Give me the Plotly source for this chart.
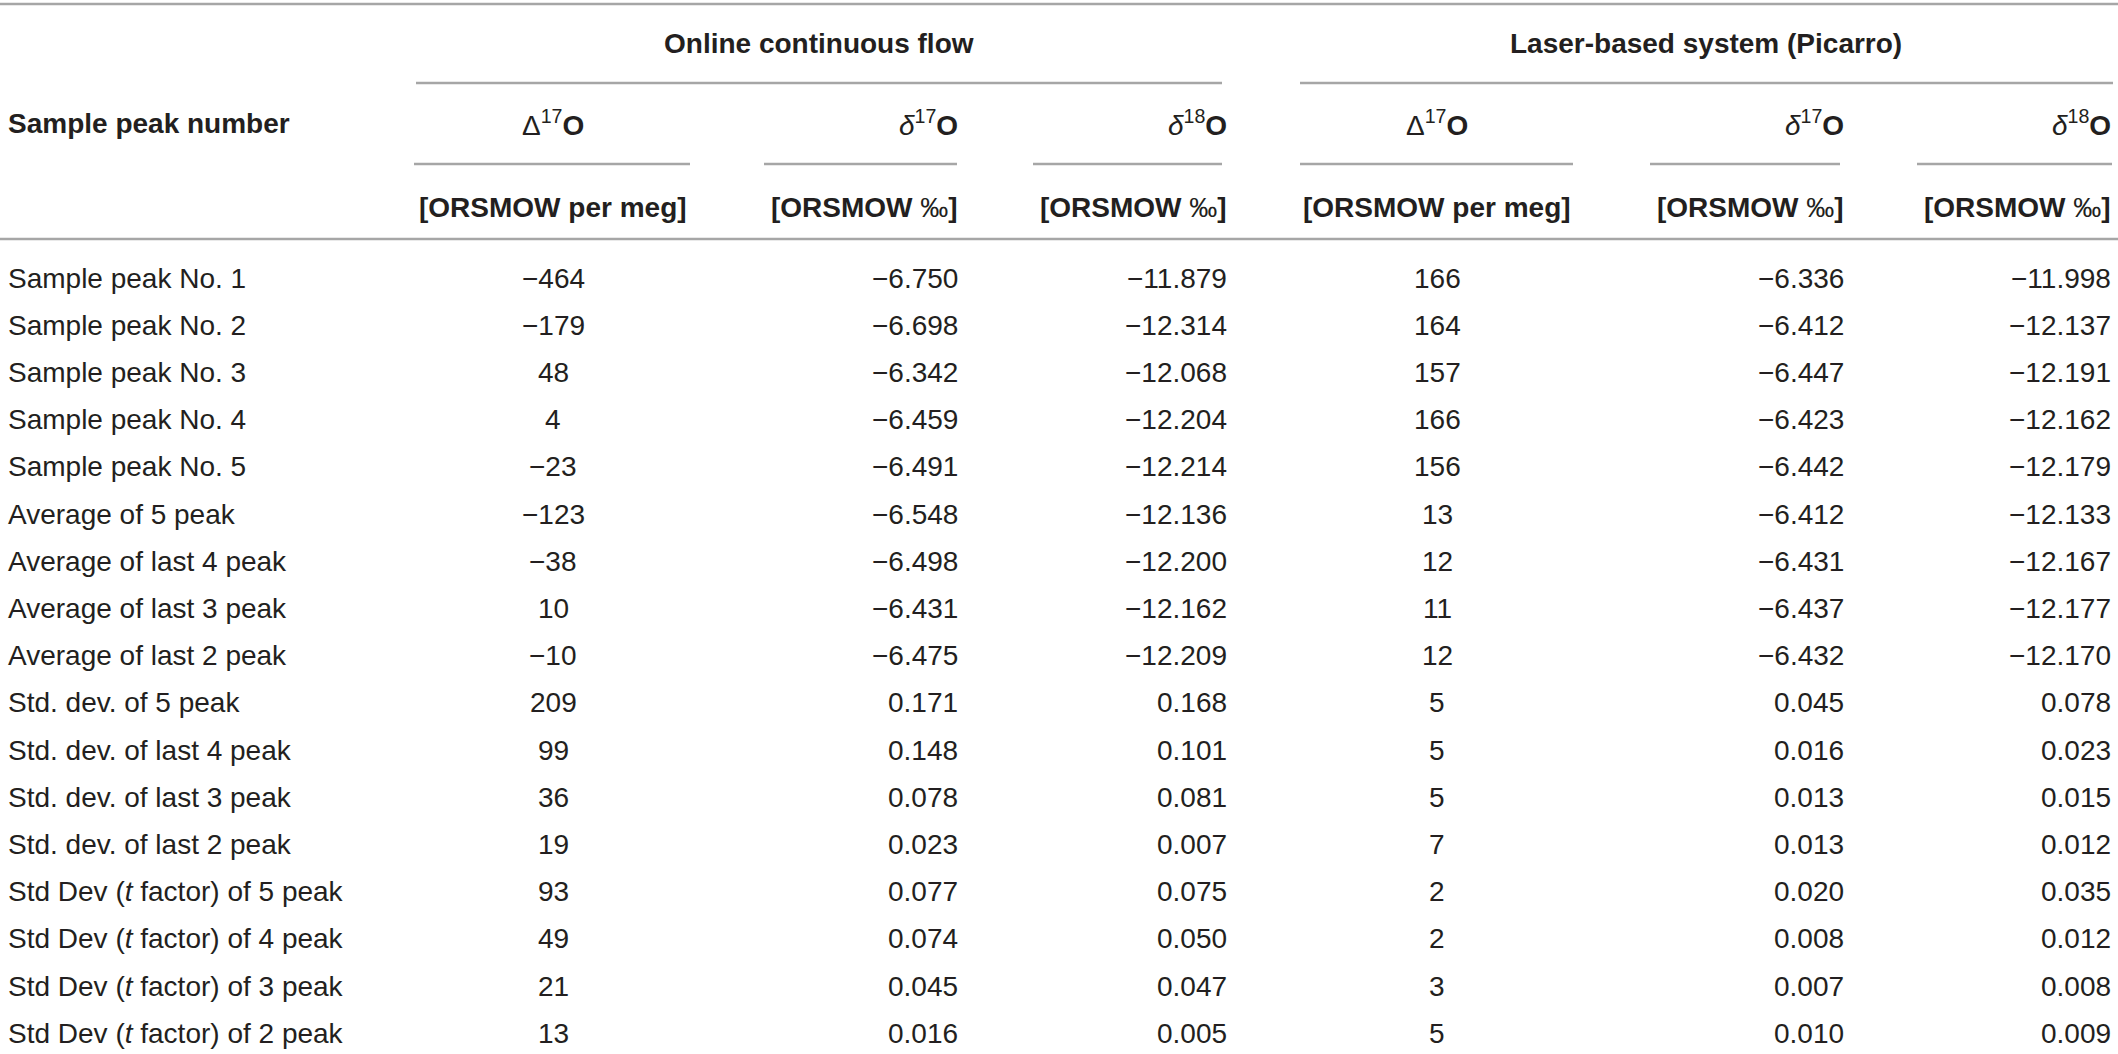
import plotly.graph_objects as go

# ---- table data -------------------------------------------------------------
row_labels = [
    "Sample peak No. 1", "Sample peak No. 2", "Sample peak No. 3",
    "Sample peak No. 4", "Sample peak No. 5",
    "Average of 5 peak", "Average of last 4 peak", "Average of last 3 peak",
    "Average of last 2 peak",
    "Std. dev. of 5 peak", "Std. dev. of last 4 peak", "Std. dev. of last 3 peak",
    "Std. dev. of last 2 peak",
    "Std Dev (<i>t</i> factor) of 5 peak", "Std Dev (<i>t</i> factor) of 4 peak",
    "Std Dev (<i>t</i> factor) of 3 peak", "Std Dev (<i>t</i> factor) of 2 peak",
]

online_cap_d17 = [-464, -179, 48, 4, -23, -123, -38, 10, -10, 209, 99, 36, 19, 93, 49, 21, 13]
online_d17 = [-6.750, -6.698, -6.342, -6.459, -6.491, -6.548, -6.498, -6.431, -6.475,
              0.171, 0.148, 0.078, 0.023, 0.077, 0.074, 0.045, 0.016]
online_d18 = [-11.879, -12.314, -12.068, -12.204, -12.214, -12.136, -12.200, -12.162, -12.209,
              0.168, 0.101, 0.081, 0.007, 0.075, 0.050, 0.047, 0.005]

picarro_cap_d17 = [166, 164, 157, 166, 156, 13, 12, 11, 12, 5, 5, 5, 7, 2, 2, 3, 5]
picarro_d17 = [-6.336, -6.412, -6.447, -6.423, -6.442, -6.412, -6.431, -6.437, -6.432,
               0.045, 0.016, 0.013, 0.013, 0.020, 0.008, 0.007, 0.010]
picarro_d18 = [-11.998, -12.137, -12.191, -12.162, -12.179, -12.133, -12.167, -12.177, -12.170,
               0.078, 0.023, 0.015, 0.012, 0.035, 0.012, 0.008, 0.009]

group_titles = ["Online continuous flow", "Laser-based system (Picarro)"]
first_header = "Sample peak number"
sub_headers = ["\u0394<sup>17</sup><b>O</b>", "<i>\u03b4</i><sup>17</sup><b>O</b>",
               "<i>\u03b4</i><sup>18</sup><b>O</b>"] * 2
unit_headers = ["<b>[ORSMOW per meg]</b>", "<b>[ORSMOW</b> \u2030<b>]</b>",
                "<b>[ORSMOW</b> \u2030<b>]</b>"] * 2

# ---- layout constants -------------------------------------------------------
W, H = 2118, 1054
TXT = "#231f20"
RULE = "#a6a6a6"
FONT = "Liberation Sans, Arial, Helvetica, sans-serif"
FS = 28

# pixel x positions of the six value columns and their alignment
col_x = [553, 959, 1228, 1437, 1845, 2112]
col_anchor = ["center", "right", "right", "center", "right", "right"]
col_rules = [(414, 690), (764, 957), (1033, 1222), (1300, 1573), (1650, 1840), (1917, 2112)]
group_rules = [(416, 1222), (1300, 2113)]
group_x = [819, 1706]

# y axis works in row units: row i sits at pixel 278 + 47.2 * i
PITCH, Y0 = 47.2, 278


def ry(px):
    return (px - Y0) / PITCH


y_top_rule = ry(4)
y_group = ry(43)
y_group_rule = ry(83)
y_sub = ry(123)
y_col_rule = ry(164)
y_units = ry(207)
y_head_rule = ry(239)


def fmt_int(v):
    return str(v).replace("-", "\u2212")


def fmt3(v):
    return f"{v:.3f}".replace("-", "\u2212")


columns = [
    [fmt_int(v) for v in online_cap_d17],
    [fmt3(v) for v in online_d17],
    [fmt3(v) for v in online_d18],
    [fmt_int(v) for v in picarro_cap_d17],
    [fmt3(v) for v in picarro_d17],
    [fmt3(v) for v in picarro_d18],
]

fig = go.Figure()
fig.add_trace(go.Scatter(x=[0, W], y=[ry(0), ry(H)], mode="markers",
                         marker=dict(opacity=0), hoverinfo="skip", showlegend=False))

ann = []


def add_text(x, y, text, anchor, size=FS):
    ann.append(dict(x=x, y=y, xref="x", yref="y", text=text, showarrow=False,
                    xanchor=anchor, yanchor="middle", borderpad=0,
                    font=dict(family=FONT, size=size, color=TXT)))


# header
for gx, title in zip(group_x, group_titles):
    add_text(gx, y_group, f"<b>{title}</b>", "center")
add_text(7, y_sub, f"<b>{first_header}</b>", "left")
for cx, anc, sh, uh in zip(col_x, col_anchor, sub_headers, unit_headers):
    add_text(cx, y_sub, sh, anc)
    add_text(cx, y_units, uh, anc)

# body
for i, lab in enumerate(row_labels):
    add_text(7, i, lab, "left")
    for cx, anc, col in zip(col_x, col_anchor, columns):
        add_text(cx, i, col[i], anc)

shapes = []


def hline(x0, x1, y):
    shapes.append(dict(type="line", xref="x", yref="y", x0=x0, x1=x1, y0=y, y1=y,
                       line=dict(color=RULE, width=2.5)))


hline(0, W, y_top_rule)
for a, b in group_rules:
    hline(a, b, y_group_rule)
for a, b in col_rules:
    hline(a, b, y_col_rule)
hline(0, W, y_head_rule)

fig.update_layout(
    width=W, height=H,
    margin=dict(l=0, r=0, t=0, b=0),
    paper_bgcolor="white", plot_bgcolor="white",
    annotations=ann, shapes=shapes,
    xaxis=dict(range=[0, W], visible=False, fixedrange=True),
    yaxis=dict(range=[ry(H), ry(0)], visible=False, fixedrange=True),
    showlegend=False,
)

fig.write_html("out.html", config=dict(displayModeBar=False),
               post_script="document.body.style.margin='0';document.body.style.overflow='hidden';")
